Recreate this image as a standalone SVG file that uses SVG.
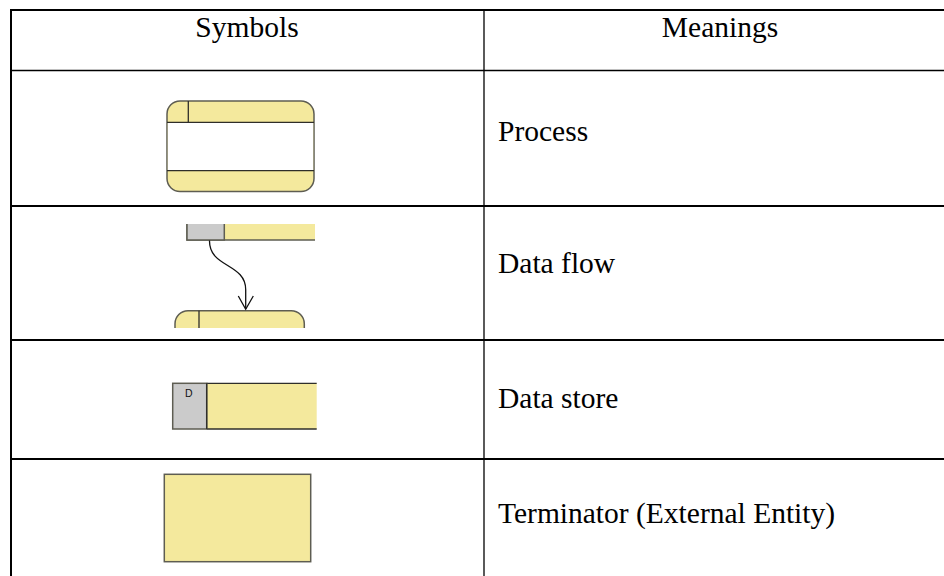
<svg xmlns="http://www.w3.org/2000/svg" width="944" height="576" viewBox="0 0 944 576">
  <style>
    .grid { stroke: #000; fill: none; }
    .txt { font-family: "Liberation Serif", "Times New Roman", serif; font-size: 29.5px; fill: #000; }
    .hdr { text-anchor: middle; }
    .shape { fill: #f4e99d; stroke: #5e5d52; stroke-width: 1.5; }
    .inner { stroke: #2e2e2a; stroke-width: 1.3; fill: none; }
    .gray { fill: #cbcbcb; }
    .flow { stroke: #111; stroke-width: 1.3; fill: none; }
  </style>
  <defs>
    <clipPath id="clipFlowTop"><rect x="150" y="224" width="165" height="30"/></clipPath>
    <clipPath id="clipFlowBottom"><rect x="150" y="300" width="170" height="28"/></clipPath>
  </defs>
  <rect width="944" height="576" fill="#fff"/>

  <!-- table grid -->
  <g id="table">
    <line class="grid" x1="11" y1="10" x2="944" y2="10" stroke-width="2.2"/>
    <line class="grid" x1="11" y1="9" x2="11" y2="576" stroke-width="2" stroke="#555"/>
    <line class="grid" x1="484" y1="10" x2="484" y2="576" stroke-width="1.3"/>
    <line class="grid" x1="11" y1="70.5" x2="944" y2="70.5" stroke-width="1.4"/>
    <line class="grid" x1="11" y1="206" x2="944" y2="206" stroke-width="2"/>
    <line class="grid" x1="11" y1="340" x2="944" y2="340" stroke-width="2"/>
    <line class="grid" x1="11" y1="459" x2="944" y2="459" stroke-width="2.2"/>
  </g>

  <!-- header -->
  <g id="header">
    <text class="txt hdr" x="247" y="37">Symbols</text>
    <text class="txt hdr" x="720" y="37">Meanings</text>
  </g>

  <!-- process symbol -->
  <g id="process">
    <rect class="shape" x="167" y="101" width="147" height="90.5" rx="13" ry="13"/>
    <rect x="167.8" y="122.3" width="145.4" height="48.4" fill="#fff"/>
    <line class="inner" x1="167" y1="122.3" x2="314" y2="122.3"/>
    <line class="inner" x1="167" y1="170.7" x2="314" y2="170.7"/>
    <line class="inner" x1="188.3" y1="101" x2="188.3" y2="122.3"/>
  </g>
  <g id="process-label"><text class="txt" x="498" y="141">Process</text></g>

  <!-- data flow symbol: source store, flow, target process -->
  <g id="flow-source" clip-path="url(#clipFlowTop)">
    <rect class="shape" x="187" y="210" width="140" height="30"/>
    <rect class="shape gray" x="187" y="210" width="37.3" height="30"/>
  </g>
  <g id="flow-target" clip-path="url(#clipFlowBottom)">
    <rect class="shape" x="175" y="310.7" width="129.3" height="60" rx="13" ry="13"/>
    <line class="inner" x1="199" y1="310.7" x2="199" y2="340"/>
  </g>
  <g id="connectors">
    <path class="flow" d="M209.5,240.5 C209,268 246,263 245.7,290 L245.7,309"/>
    <path class="flow" d="M238.3,296 L245.7,309.3 L253.3,296"/>
  </g>
  <g id="flow-label"><text class="txt" x="498" y="273">Data flow</text></g>

  <!-- data store symbol -->
  <g id="datastore">
    <rect x="206.7" y="383.3" width="110" height="45.7" fill="#f4e99d"/>
    <line class="inner" x1="206.7" y1="383.3" x2="316.7" y2="383.3" stroke="#5e5d52"/>
    <line class="inner" x1="206.7" y1="429" x2="316.7" y2="429" stroke="#5e5d52"/>
    <rect class="shape gray" x="172.7" y="383.3" width="34" height="45.7"/>
    <line class="inner" x1="206.7" y1="383.3" x2="206.7" y2="429"/>
    <text x="185" y="396.8" font-family="'Liberation Sans', Arial, sans-serif" font-size="10.5" fill="#111">D</text>
  </g>
  <g id="store-label"><text class="txt" x="498" y="408">Data store</text></g>

  <!-- terminator symbol -->
  <g id="terminator">
    <rect class="shape" x="164.3" y="474.3" width="146.4" height="87.4"/>
  </g>
  <g id="terminator-label"><text class="txt" x="498" y="523">Terminator (External Entity)</text></g>
</svg>
